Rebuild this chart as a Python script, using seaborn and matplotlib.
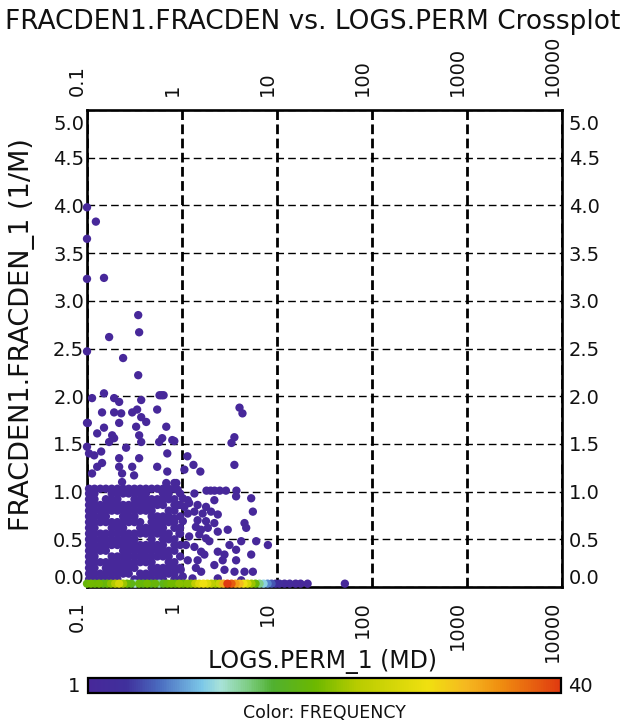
import numpy as np
import pandas as pd
import matplotlib
matplotlib.use("Agg")
import matplotlib.pyplot as plt
import seaborn as sns
from matplotlib.colors import LinearSegmentedColormap, Normalize
from matplotlib.cm import ScalarMappable
from matplotlib.ticker import FixedLocator, FixedFormatter, NullLocator
from matplotlib.transforms import ScaledTranslation

# ---------------- data ----------------
# dense block of single-count bins (perm columns, fracden rows bottom->top, occupancy mask top->bottom)
dense_perm = [0.105, 0.12, 0.138, 0.158, 0.182, 0.209, 0.24, 0.275, 0.316,
              0.363, 0.417, 0.479, 0.55, 0.631, 0.724, 0.832, 0.955]
dense_frac = [0.08, 0.14, 0.20, 0.26, 0.32, 0.38, 0.44, 0.50, 0.56,
              0.62, 0.68, 0.74, 0.80, 0.86, 0.92, 0.98, 1.03]
dense_mask = [
    "11111111111111110",
    "11001111111001101",
    "11011100111111110",
    "11111111111111011",
    "11111111111100110",
    "11110011100111101",
    "11111111110111110",
    "11001110011111011",
    "11111111111111101",
    "11111111100101110",
    "11111111111111011",
    "11110011111111110",
    "11001111111111101",
    "11111111111100110",
    "11011111100111111",
    "11111111011111110",
    "11111100111111011",
]

# scattered single-count points
sparse_perm = [
    0.100, 0.124, 0.100, 0.100, 0.151, 0.346, 0.354, 0.171, 0.100, 0.240, 0.346,
    0.100, 0.100, 0.105,
    0.151, 0.113, 0.193, 0.58, 0.61, 0.64, 0.372, 0.218, 0.144, 0.193, 0.229,
    0.299, 0.337, 0.548, 0.372, 0.420, 0.102, 0.218, 0.151, 0.329, 0.683, 0.128,
    0.184, 0.354, 0.619, 0.171, 0.193, 0.372, 0.575, 0.790, 0.258, 0.141, 0.119,
    0.218, 0.354, 0.700, 0.128, 0.144, 0.218, 0.299, 0.548, 0.113, 0.234, 0.313,
    0.700, 0.234, 0.683, 0.871,
    4.03, 4.33, 3.56, 3.32, 0.83, 1.14, 1.32, 1.06, 1.56, 3.56, 0.83,
    1.81, 2.0, 2.2, 2.5, 2.9, 3.74,
    0.90, 1.02, 1.15, 1.35, 3.71, 5.35, 0.90, 1.06, 1.19, 1.46, 1.79, 2.19,
    1.15, 1.35, 1.65, 2.02, 2.38, 0.83, 1.02, 1.46, 1.79, 2.19, 5.57, 1.40,
    1.59, 1.87, 2.38, 3.03, 4.55, 4.74, 0.94, 1.19, 1.52, 1.79, 1.94, 1.10,
    1.35, 3.16, 4.20, 6.04, 8.02, 2.38, 2.80, 3.71, 1.59, 1.72, 1.15, 1.46,
    2.68, 3.71, 5.35, 2.19, 1.40, 0.97, 1.59, 2.80, 3.57, 4.55, 5.57, 1.02,
    1.29, 2.38, 4.20,
]
sparse_frac = [
    3.98, 3.83, 3.65, 3.23, 3.24, 2.85, 2.67, 2.62, 2.47, 2.40, 2.22,
    1.72, 1.47, 1.40,
    2.03, 1.98, 1.98, 2.01, 2.01, 2.01, 1.96, 1.94, 1.83, 1.83, 1.82,
    1.83, 1.86, 1.86, 1.78, 1.73, 1.72, 1.72, 1.67, 1.68, 1.68, 1.61,
    1.59, 1.59, 1.56, 1.52, 1.56, 1.52, 1.52, 1.54, 1.46, 1.42, 1.38,
    1.35, 1.35, 1.40, 1.26, 1.30, 1.26, 1.26, 1.26, 1.19, 1.19, 1.17,
    1.21, 1.10, 1.09, 1.09,
    1.88, 1.82, 1.57, 1.51, 1.53, 1.37, 1.28, 1.23, 1.21, 1.28, 1.09,
    1.01, 1.01, 1.01, 1.01, 1.01, 1.01,
    1.02, 0.93, 0.91, 0.98, 0.95, 0.93, 0.86, 0.84, 0.88, 0.86, 0.84, 0.91,
    0.77, 0.79, 0.77, 0.79, 0.76, 0.72, 0.69, 0.70, 0.69, 0.67, 0.79, 0.63,
    0.60, 0.62, 0.58, 0.60, 0.67, 0.62, 0.56, 0.53, 0.55, 0.51, 0.48, 0.44,
    0.42, 0.44, 0.48, 0.48, 0.44, 0.37, 0.34, 0.39, 0.37, 0.34, 0.28, 0.28,
    0.28, 0.28, 0.34, 0.23, 0.20, 0.18, 0.16, 0.18, 0.16, 0.16, 0.16, 0.11,
    0.09, 0.09, 0.07,
]

# zero-fracture strip along the bottom, coloured by frequency
strip_perm = [0.100, 0.110, 0.121, 0.134, 0.148, 0.163, 0.179, 0.198, 0.218, 0.240,
              0.264, 0.292, 0.321, 0.354, 0.390, 0.430, 0.474, 0.522, 0.575, 0.635,
              0.700, 0.771, 0.850, 0.936, 1.03, 1.14, 1.25, 1.38, 1.52, 1.68,
              1.85, 2.04, 2.25, 2.48, 2.73, 3.01, 3.32, 3.66, 4.03, 4.44,
              4.89, 5.39, 5.94, 6.55, 7.22, 7.96, 8.77, 9.66, 10.6, 12.0,
              13.6, 15.7, 17.7, 21.0, 51.8]
strip_freq = [19, 20, 19, 20, 18, 19, 21, 23, 26, 22,
              19, 18, 12, 19, 18, 20, 17, 19, 14, 18,
              19, 20, 19, 21, 20, 21, 21, 24, 27, 29,
              27, 24, 22, 25, 33, 40, 38, 34, 32, 29,
              26, 22, 19, 14, 11, 8, 6, 4, 3, 2,
              2, 1, 1, 1, 1]
strip_frac_value = 0.035

x_ticks = [0.1, 1, 10, 100, 1000, 10000]
x_tick_labels = ["0.1", "1", "10", "100", "1000", "10000"]
y_ticks = [0.0, 0.5, 1.0, 1.5, 2.0, 2.5, 3.0, 3.5, 4.0, 4.5, 5.0]
y_tick_labels = ["0.0", "0.5", "1.0", "1.5", "2.0", "2.5", "3.0", "3.5", "4.0", "4.5", "5.0"]

title = "FRACDEN1.FRACDEN vs. LOGS.PERM Crossplot"
x_label = "LOGS.PERM_1 (MD)"
y_label = "FRACDEN1.FRACDEN_1 (1/M)"
color_label = "Color: FREQUENCY"
freq_min, freq_max = 1, 40

# ---------------- build table ----------------
rows = []
n_rows = len(dense_mask)
for r, line in enumerate(dense_mask):
    fr = dense_frac[n_rows - 1 - r]
    for c, ch in enumerate(line):
        if ch == "1":
            rows.append((dense_perm[c], fr, 1))
for p, f in zip(sparse_perm, sparse_frac):
    rows.append((p, f, 1))
for p, q in zip(strip_perm, strip_freq):
    rows.append((p, strip_frac_value, q))
df = pd.DataFrame(rows, columns=["perm", "frac", "freq"]).sort_values("freq", kind="stable")

cmap = LinearSegmentedColormap.from_list("freq", [
    (0.00, "#47289a"), (0.08, "#40309c"), (0.15, "#4a6cc0"), (0.24, "#7cc8e8"),
    (0.28, "#a8e2d8"), (0.34, "#7ccc80"), (0.39, "#50b030"), (0.48, "#6cb800"),
    (0.57, "#b8cc00"), (0.72, "#f0e010"), (0.80, "#f5b820"), (0.87, "#f09010"),
    (1.00, "#e03a10")])
norm = Normalize(freq_min, freq_max)

# ---------------- figure ----------------
sns.set_style("white")
plt.rcParams["font.family"] = ["DejaVu Sans"]
plt.rcParams["text.color"] = "#111111"
plt.rcParams["xtick.color"] = "#111111"
plt.rcParams["ytick.color"] = "#111111"
W, H = 625, 724
fig = plt.figure(figsize=(W / 100, H / 100), dpi=100)
L, R, T, B = 87, 562, 110, 587
ax = fig.add_axes([L / W, 1 - B / H, (R - L) / W, (B - T) / H])
ax.set_xscale("log")

sns.scatterplot(data=df, x="perm", y="frac", hue="freq", palette=cmap, hue_norm=norm,
                s=36, linewidth=0, legend=False, ax=ax, clip_on=False, zorder=3)

ax.set_xlim(0.1, 10000)
ax.set_ylim(0, 5)
ax.set_xlabel("")
ax.set_ylabel("")

ax.xaxis.set_major_locator(FixedLocator(x_ticks))
ax.xaxis.set_major_formatter(FixedFormatter(x_tick_labels))
ax.xaxis.set_minor_locator(NullLocator())
ax.yaxis.set_major_locator(FixedLocator(y_ticks))
ax.yaxis.set_major_formatter(FixedFormatter(y_tick_labels))

ax.set_axisbelow(True)
ax.xaxis.grid(True, color="black", linewidth=2.0, linestyle=(0, (3.5, 1.6)))
ax.yaxis.grid(True, color="black", linewidth=1.0, linestyle=(0, (5.5, 3)))

for s in ax.spines.values():
    s.set_color("black")
    s.set_linewidth(1.9)

ax.tick_params(axis="x", which="major", bottom=True, top=True, labelbottom=True,
               labeltop=True, labelrotation=90, length=0, labelsize=14, pad=10,
               labelcolor="#111111")
ax.tick_params(axis="y", which="major", left=True, right=True, labelleft=True,
               labelright=True, length=0, labelsize=14, pad=2, labelcolor="#111111")
for t in ax.xaxis.get_major_ticks():
    t.label1.set_ha("right")
    t.label2.set_ha("right")
    t.label2.set_va("bottom")
for t in ax.yaxis.get_major_ticks():
    t.label2.set_transform(t.label2.get_transform() + ScaledTranslation(4 / 100, 0, fig.dpi_scale_trans))
yt = ax.yaxis.get_major_ticks()
for lab in (yt[0].label1, yt[0].label2):
    lab.set_transform(lab.get_transform() + ScaledTranslation(0, 10 / 100, fig.dpi_scale_trans))
for lab in (yt[-1].label1, yt[-1].label2):
    lab.set_transform(lab.get_transform() + ScaledTranslation(0, -13 / 100, fig.dpi_scale_trans))

fig.text(313 / W, 1 - 22 / H, title, ha="center", va="center", fontsize=19)
fig.text(323 / W, 1 - 662 / H, x_label, ha="center", va="center", fontsize=17)
fig.text(22 / W, 1 - 335 / H, y_label, ha="center", va="center", rotation=90, fontsize=19.5)

# colour bar
cax = fig.add_axes([88 / W, 1 - 693 / H, 473 / W, 15 / H])
cb = fig.colorbar(ScalarMappable(norm=norm, cmap=cmap), cax=cax, orientation="horizontal")
cb.set_ticks([])
cb.outline.set_linewidth(1.6)
cb.outline.set_edgecolor("black")
fig.text(80 / W, 1 - 686 / H, str(freq_min), ha="right", va="center", fontsize=14)
fig.text(568 / W, 1 - 686 / H, str(freq_max), ha="left", va="center", fontsize=14)
fig.text(324 / W, 1 - 713 / H, color_label, ha="center", va="center", fontsize=12.5)

fig.savefig("out.png", dpi=100, facecolor="white")
